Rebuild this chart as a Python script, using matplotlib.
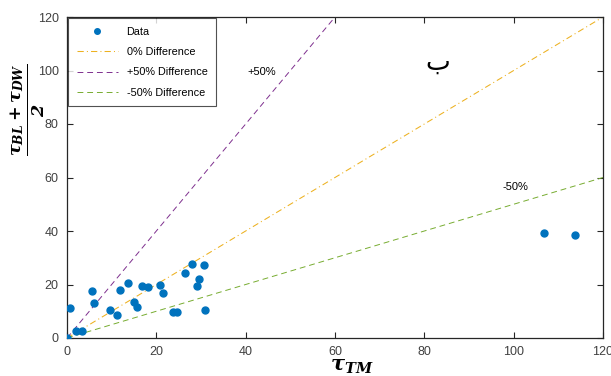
import numpy as np
import matplotlib.pyplot as plt

plt.rcParams['font.family'] = ['Liberation Sans', 'DejaVu Sans']
plt.rcParams['mathtext.fontset'] = 'custom'
plt.rcParams['mathtext.bf'] = 'DejaVu Serif:bold:italic'
plt.rcParams['mathtext.rm'] = 'DejaVu Serif:bold'
plt.rcParams['mathtext.it'] = 'DejaVu Serif:bold:italic'

# measured data
tau_tm = [0.0, 0.6, 1.95, 3.45, 5.5, 6.1, 9.7, 11.2, 11.9, 13.7, 15.0, 15.7,
          16.9, 18.1, 20.8, 21.5, 23.7, 24.6, 26.4, 27.9, 29.5, 29.1, 30.6, 30.8,
          106.7, 113.8]
tau_avg = [0.0, 11.1, 2.6, 2.6, 17.7, 13.0, 10.4, 8.5, 18.1, 20.7, 13.4, 11.5,
           19.4, 18.9, 20.0, 16.7, 9.6, 9.6, 24.3, 27.7, 22.2, 19.6, 27.3, 10.4,
           39.3, 38.5]

# reference lines
line0_x = [0, 120]
line0_y = [0, 120]
plus_x = [0, 60]
plus_y = [0, 120]
minus_x = [0, 120]
minus_y = [0, 60]

fig = plt.figure(figsize=(6.11, 3.76), dpi=100)
ax = fig.add_axes([67/611, 38/376, 536/611, 321/376])

ax.plot(tau_tm, tau_avg, 'o', color='#0072BD', markersize=5, label='Data', zorder=3)
ax.plot(line0_x, line0_y, '-.', color='#EDB120', lw=0.75, dashes=(6, 3, 1, 3),
        label='0% Difference')
ax.plot(plus_x, plus_y, '--', color='#7E2F8E', lw=0.7, dashes=(6, 4), label='+50% Difference')
ax.plot(minus_x, minus_y, '--', color='#77AC30', lw=0.7, dashes=(6, 4), label='-50% Difference')

ax.set_xlim(0, 120)
ax.set_ylim(0, 120)
ax.set_xticks(np.arange(0, 121, 20))
ax.set_yticks(np.arange(0, 121, 20))
ax.tick_params(direction='in', top=True, right=True, length=4, width=0.8,
               labelsize=9, labelcolor='#404040', color='#262626', pad=6)
for s in ax.spines.values():
    s.set_linewidth(0.9)
    s.set_color('#262626')

ax.text(43.7, 99.6, '+50%', fontsize=8, ha='center', va='center')
ax.text(100.3, 56.4, '-50%', fontsize=8, ha='center', va='center')
ax.text(83, 103, '\u0628', fontsize=19, ha='center', va='center',
        family='DejaVu Sans')

leg = ax.legend(loc='upper left', fontsize=7.8, frameon=True, fancybox=False,
                edgecolor='#262626', borderaxespad=0.1, handlelength=3.8,
                labelspacing=0.95, borderpad=0.8, markerscale=0.8)
leg.get_frame().set_linewidth(0.8)

fig.text(352/611, 1 - 367/376, r'$\mathbf{\tau_{TM}}$', fontsize=15,
         ha='center', va='center')
fig.text(28/611, 1 - 110/376, r'$\mathbf{\frac{\tau_{BL}+\tau_{DW}}{2}}$',
         fontsize=18, rotation=90, ha='center', va='center')

fig.savefig('out.png', dpi=100)
